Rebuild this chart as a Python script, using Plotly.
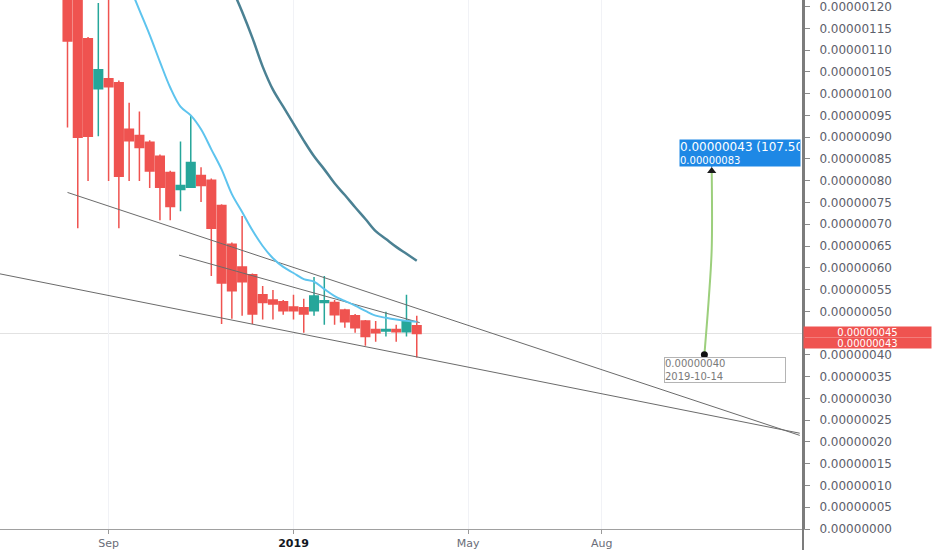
import plotly.graph_objects as go

S = 1e-8  # values below are in units of 0.00000001

dates = ["2018-08-06", "2018-08-13", "2018-08-20", "2018-08-27", "2018-09-03", "2018-09-10",
         "2018-09-17", "2018-09-24", "2018-10-01", "2018-10-08", "2018-10-15", "2018-10-22",
         "2018-10-29", "2018-11-05", "2018-11-12", "2018-11-19", "2018-11-26", "2018-12-03",
         "2018-12-10", "2018-12-17", "2018-12-24", "2018-12-31", "2019-01-07", "2019-01-14",
         "2019-01-21", "2019-01-28", "2019-02-04", "2019-02-11", "2019-02-18", "2019-02-25",
         "2019-03-04", "2019-03-11", "2019-03-18", "2019-03-25", "2019-04-01"]

open_ = [130, 125, 112.6, 101.1, 103.4, 102.5, 91.8, 90.4, 88.8, 85.6, 81.9, 78.0, 78.5, 81.2,
         80.1, 74.3, 65.4, 60.2, 58.4, 53.8, 52.6, 52.2, 51.0, 50.8, 50.1, 52.0, 52.0, 50.3,
         49.0, 47.8, 45.8, 45.5, 45.8, 45.3, 46.7]
high = [138, 130, 113.0, 120.8, 123, 103.0, 97.9, 95.9, 89.3, 86.0, 82.3, 89.0, 95.0, 83.1,
        80.5, 74.6, 65.8, 71.9, 58.7, 55.8, 54.9, 52.6, 53.8, 52.9, 57.9, 58.1, 52.6, 50.6,
        49.4, 48.0, 47.8, 49.9, 46.9, 53.8, 49.0]
low = [92.2, 69.1, 79.9, 90.2, 79.9, 69.1, 79.9, 79.9, 78.3, 70.9, 70.9, 73.0, 78.3, 75.1,
       58.1, 47.1, 48.3, 49.0, 47.1, 48.1, 48.1, 49.2, 48.1, 45.1, 49.0, 46.9, 46.9, 46.2,
       45.1, 42.1, 43.0, 44.2, 43.0, 44.2, 39.4]
close = [112.1, 90.0, 90.2, 105.5, 101.6, 81.0, 89.2, 87.6, 82.2, 78.5, 74.1, 78.9, 84.2, 78.9,
         69.1, 56.5, 54.7, 56.8, 49.4, 52.0, 51.7, 50.1, 50.1, 49.4, 53.5, 52.4, 49.2, 47.6,
         46.2, 44.2, 45.1, 45.8, 45.3, 47.8, 44.9]

ma_fast = [None] * 6 + [124.9, 119.2, 113.5, 107.3, 101.4, 97.0, 95.0, 91.8, 87.2, 82.6, 76.9,
                        72.8, 68.6, 65.0, 62.2, 60.2, 58.8, 57.4, 56.8, 55.1, 53.5, 52.4, 51.3,
                        50.1, 49.0, 48.5, 48.1, 47.8, 47.6]
ma_slow = [None] * 16 + [124.3, 118.8, 112.8, 106.2, 100.9, 97.0, 93.1, 89.2, 85.6, 82.6, 79.4,
                         76.7, 73.9, 71.2, 68.4, 66.6, 64.8, 63.2, 61.6]

# trend lines (start / end)
tl_upper_x = ["2018-08-06", "2019-12-18"]
tl_upper_y = [77.3, 21.5]
tl_mid_x = ["2018-10-21", "2019-04-03"]
tl_mid_y = [62.9, 47.4]
tl_lower_x = ["2018-06-21", "2019-12-18"]
tl_lower_y = [58.6, 22.0]

# projection arrow
arrow_x = ["2019-10-14", "2019-10-17", "2019-10-19", "2019-10-19"]
arrow_y = [40, 52.9, 64.3, 82.2]

last_price = 44.9
label_prices = [45.2, 42.8]
label_texts = ["0.00000045", "0.00000043"]

# right axis ticks (0.00000045 is covered by the last-price label)
y_tick_vals = [0, 5, 10, 15, 20, 25, 30, 35, 40, 50, 55, 60, 65, 70, 75, 80, 85, 90, 95,
               100, 105, 110, 115, 120]

tick_dates = ["2018-09-03", "2019-01-07", "2019-05-06", "2019-08-05"]
tick_text = ["Sep", "<span style='color:#131722'><b>2019</b></span>", "May", "Aug"]


def sc(vals):
    return [None if v is None else v * S for v in vals]


fig = go.Figure()

for xs, ys in [(tl_upper_x, tl_upper_y), (tl_mid_x, tl_mid_y), (tl_lower_x, tl_lower_y)]:
    fig.add_trace(go.Scatter(x=xs, y=sc(ys), mode="lines",
                             line=dict(color="#6b6b6b", width=1), hoverinfo="skip",
                             showlegend=False))

fig.add_trace(go.Scatter(x=dates, y=sc(ma_slow), mode="lines",
                         line=dict(color="#4b8193", width=2.5, shape="spline"),
                         hoverinfo="skip", showlegend=False))
fig.add_trace(go.Scatter(x=dates, y=sc(ma_fast), mode="lines",
                         line=dict(color="#5ec4ee", width=2, shape="spline"),
                         hoverinfo="skip", showlegend=False))

fig.add_trace(go.Candlestick(
    x=dates, open=sc(open_), high=sc(high), low=sc(low), close=sc(close),
    increasing=dict(line=dict(color="#26a69a", width=1.5), fillcolor="#26a69a"),
    decreasing=dict(line=dict(color="#ef5350", width=1.5), fillcolor="#ef5350"),
    whiskerwidth=0, showlegend=False, hoverinfo="skip"))

# projection arrow
fig.add_trace(go.Scatter(x=arrow_x, y=sc(arrow_y), mode="lines",
                         line=dict(color="#9ccf7c", width=2, shape="spline"),
                         hoverinfo="skip", showlegend=False))
fig.add_trace(go.Scatter(x=[arrow_x[-1]], y=[arrow_y[-1] * S], mode="markers",
                         marker=dict(symbol="triangle-up", size=8, color="#1b1b1b"),
                         hoverinfo="skip", showlegend=False))
fig.add_trace(go.Scatter(x=[arrow_x[0]], y=[arrow_y[0] * S], mode="markers",
                         marker=dict(symbol="circle", size=7, color="#111111"),
                         hoverinfo="skip", showlegend=False))

fig.add_shape(type="line", xref="paper", x0=0, x1=1, yref="y",
              y0=last_price * S, y1=last_price * S, line=dict(color="#e2e2e2", width=1),
              layer="below")
# price-scale border continues down to the bottom edge
fig.add_shape(type="line", xref="paper", x0=1, x1=1, yref="paper", y0=-0.04, y1=1,
              line=dict(color="#7c7c7c", width=2))

# right-axis price labels
for p, t in zip(label_prices, label_texts):
    fig.add_annotation(xref="paper", x=1.0, xanchor="left", yref="y", y=p * S,
                       yanchor="middle", text=t, showarrow=False, bgcolor="#ef5350",
                       font=dict(color="white", size=10, family="DejaVu Sans"),
                       width=127, height=10, borderpad=0, align="center")

# price-range label (top)
fig.add_annotation(xref="paper", x=801 / 803, xanchor="right", yref="y", y=86.4 * S,
                   yanchor="middle",
                   text="<span style='font-size:12px'>0.00000043 (107.50%)</span><br>"
                        "<span style='font-size:10px'>0.00000083</span>",
                   showarrow=False, bgcolor="#1e88e5",
                   font=dict(color="white", size=10, family="DejaVu Sans"),
                   width=120, align="left", borderpad=0)
fig.add_trace(go.Scatter(x=[arrow_x[-1]], y=[83.9 * S], mode="markers",
                         marker=dict(symbol="triangle-down", size=7, color="#1e88e5"),
                         hoverinfo="skip", showlegend=False))

# start label (bottom)
fig.add_annotation(xref="x", x="2019-10-28", xanchor="center", yref="y", y=36.6 * S,
                   yanchor="middle", text="0.00000040<br>2019-10-14", showarrow=False,
                   bgcolor="white", bordercolor="#b4b4b4", borderwidth=1, borderpad=0,
                   font=dict(color="#7a7a7a", size=10, family="DejaVu Sans"),
                   width=120, align="left")

fig.update_layout(
    width=932, height=550,
    margin=dict(l=0, r=129, t=0, b=19),
    paper_bgcolor="white", plot_bgcolor="white",
    boxgap=0.12, boxgroupgap=0.05,
    showlegend=False,
    font=dict(family="DejaVu Sans", color="#5d606b"),
    xaxis=dict(type="date", range=["2018-06-21", "2019-12-20 05:00"],
               tickvals=tick_dates, ticktext=tick_text, tickangle=0,
               ticks="outside", ticklen=4, tickcolor="#9a9a9a",
               showline=True, linecolor="#a0a0a0", linewidth=1,
               showgrid=True, gridcolor="#f1f2f6", gridwidth=1, zeroline=False,
               rangeslider=dict(visible=False),
               tickfont=dict(size=11, color="#6a6d78", family="DejaVu Sans")),
    yaxis=dict(side="right", range=[0, 121.5 * S],
               tickvals=sc(y_tick_vals), tickformat=".8f",
               ticks="outside", ticklen=5, tickcolor="#8a8a8a",
               showline=True, linecolor="#7c7c7c", linewidth=2,
               showgrid=False, zeroline=False, ticklabelstandoff=7,
               ticklabeloverflow="allow",
               tickfont=dict(size=12, color="#5d606b", family="DejaVu Sans")),
)

fig.write_html("out.html", post_script="document.body.style.margin='0';",
               config={"displayModeBar": False})
